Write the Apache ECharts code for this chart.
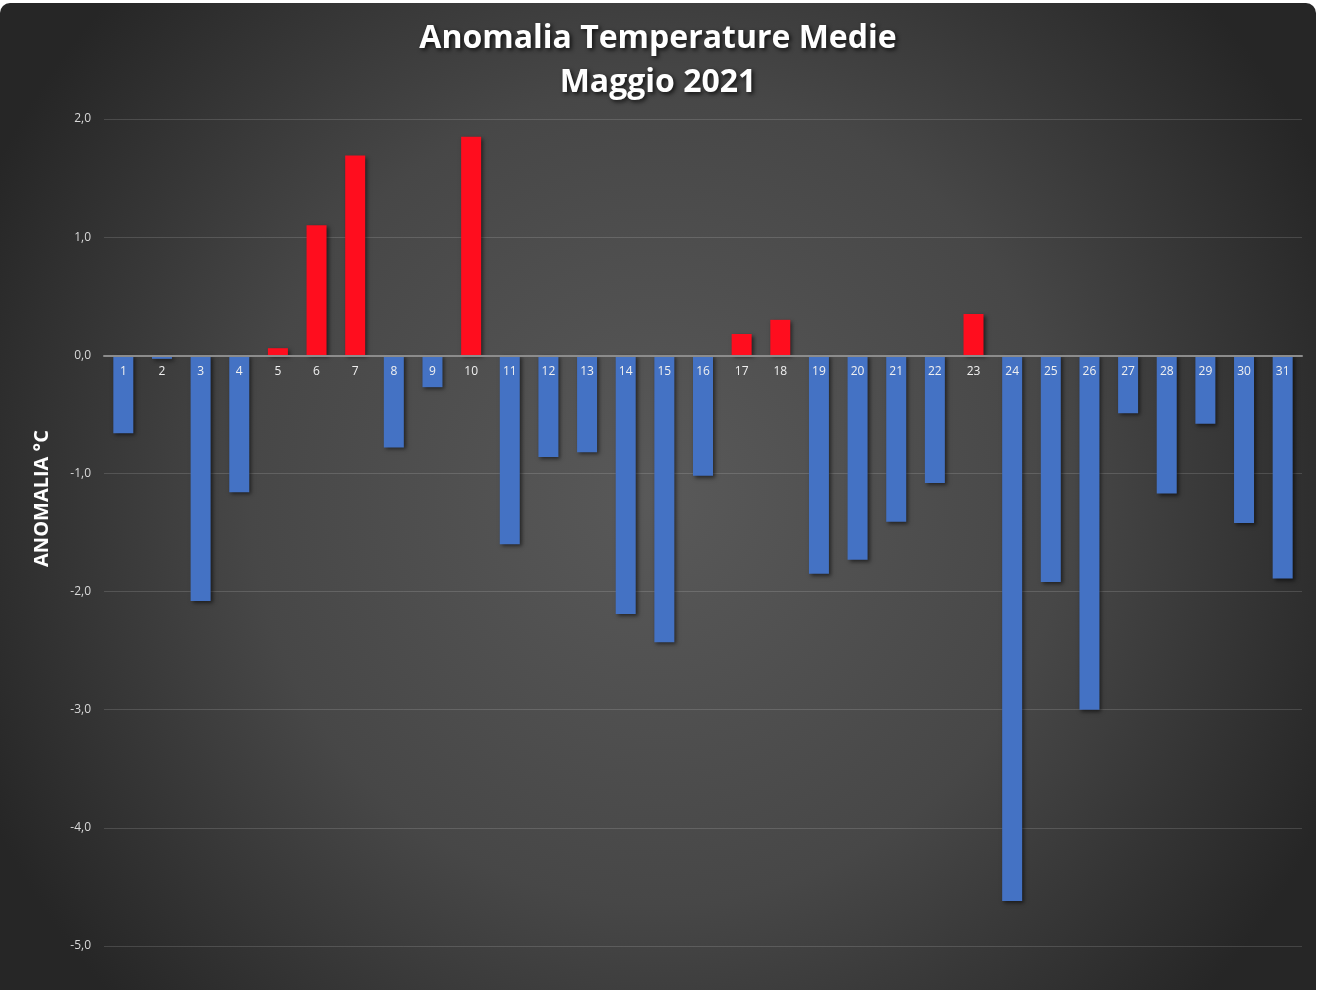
<!DOCTYPE html>
<html lang="it">
<head>
  <meta charset="UTF-8">
  <title>Anomalia Temperature Medie - Maggio 2021</title>
  <style>
    * {
      margin: 0;
      padding: 0;
    }
    body {
      background: #fff;
      width: 1318px;
      height: 990px;
      overflow: hidden;
    }
    /* contenitore del grafico, angoli arrotondati come nel foglio */
    #main {
      position: absolute;
      left: 0;
      top: 3px;
      width: 1316px;
      height: 987px;
      border-radius: 10px 10px 0 0;
      overflow: hidden;
    }
  </style>
</head>
<body>
  <div id="main"></div>
  <script src="https://cdn.jsdelivr.net/npm/echarts@6/dist/echarts.min.js"></script>
  <script>
    // giorni di maggio
    var days = [];
    for (var d = 1; d <= 31; d++) days.push(String(d));

    // anomalia media giornaliera (°C)
    var anomalies = [
      -0.66, -0.03, -2.08, -1.16, 0.06, 1.10, 1.69, -0.78, -0.27, 1.85,
      -1.60, -0.86, -0.82, -2.19, -2.43, -1.02, 0.18, 0.30, -1.85, -1.73,
      -1.41, -1.08, 0.35, -4.62, -1.92, -3.00, -0.49, -1.17, -0.58, -1.42,
      -1.89
    ];

    var yMin = -5;
    var yMax = 2;
    var yStep = 1;

    var titleLines = ['Anomalia Temperature Medie', 'Maggio 2021'];

    var gridTop = 116;
    var gridBottom = 44;
    var chartHeight = 987;
    // l'asse x sta sullo zero: lo sposto dal bordo alto della griglia
    var zeroOffset = (chartHeight - gridTop - gridBottom) * yMax / (yMax - yMin);

    var chart = echarts.init(document.getElementById('main'));

    var option = {
      animation: false,
      backgroundColor: {
        type: 'radial',
        x: 0.5, y: 0.5, r: 0.75,
        colorStops: [
          { offset: 0, color: '#595959' },
          { offset: 0.55, color: '#474747' },
          { offset: 1, color: '#262626' }
        ]
      },
      title: {
        text: titleLines.join('\n'),
        left: 'center',
        top: 9,
        padding: [5, 26, 5, 0],
        textStyle: {
          fontFamily: 'Open Sans',
          fontWeight: 'bold',
          fontSize: 32,
          lineHeight: 44,
          color: '#ffffff',
          textShadowColor: 'rgba(0,0,0,0.75)',
          textShadowBlur: 4,
          textShadowOffsetX: 2,
          textShadowOffsetY: 2
        }
      },
      grid: {
        left: 104,
        right: 14,
        top: gridTop,
        bottom: gridBottom
      },
      xAxis: {
        type: 'category',
        data: days,
        position: 'top',
        offset: -zeroOffset,
        z: 10,
        axisLine: {
          onZero: false,
          lineStyle: { color: '#8c8c8c', width: 2 }
        },
        axisTick: { show: false },
        axisLabel: {
          inside: true,
          margin: 10,
          color: '#f0f0f0',
          fontFamily: 'Open Sans',
          fontSize: 12
        },
        splitLine: { show: false }
      },
      yAxis: {
        type: 'value',
        min: yMin,
        max: yMax,
        interval: yStep,
        name: 'ANOMALIA °C',
        nameLocation: 'middle',
        nameRotate: 90,
        nameGap: 52,
        nameTextStyle: {
          fontFamily: 'Open Sans',
          fontWeight: 'bold',
          fontSize: 20,
          color: '#ffffff',
          padding: [0, 0, 0, 68]
        },
        axisLine: { show: false },
        axisTick: { show: false },
        axisLabel: {
          margin: 13,
          color: '#d9d9d9',
          fontFamily: 'Open Sans',
          fontSize: 12,
          formatter: function (v) {
            return v.toFixed(1).replace('.', ',');
          }
        },
        splitLine: {
          lineStyle: { color: 'rgba(255,255,255,0.14)', width: 1 }
        }
      },
      series: [{
        type: 'bar',
        data: anomalies,
        barWidth: 20,
        itemStyle: {
          color: function (p) {
            return p.value >= 0 ? '#FF0D1E' : '#4472C4'; // positivi rossi, negativi blu
          },
          shadowColor: 'rgba(0,0,0,0.55)',
          shadowBlur: 4,
          shadowOffsetX: 2,
          shadowOffsetY: 2
        }
      }]
    };

    chart.setOption(option);
  </script>
</body>
</html>
